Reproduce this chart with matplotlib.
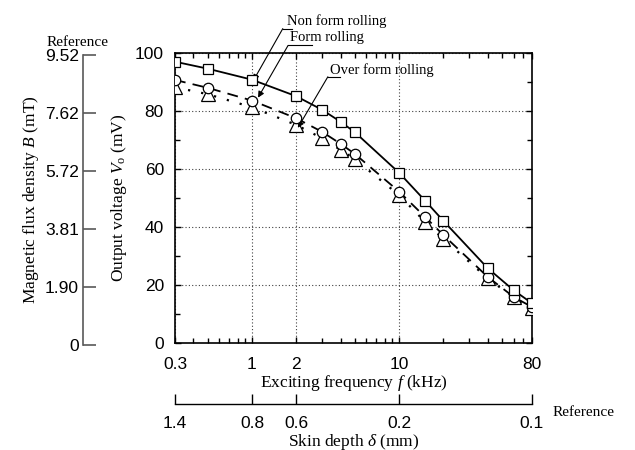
import matplotlib
matplotlib.use("Agg")
import matplotlib.pyplot as plt
from matplotlib.ticker import FixedLocator, LogLocator, MultipleLocator, NullFormatter

plt.rcParams['font.family'] = ['Liberation Sans', 'DejaVu Sans']
plt.rcParams['mathtext.fontset'] = 'custom'
plt.rcParams['mathtext.rm'] = 'Liberation Serif'
plt.rcParams['mathtext.it'] = 'Liberation Serif:italic'
SERIF = 'Liberation Serif'

# 数据
freq = [0.3, 0.5, 1, 2, 3, 4, 5, 10, 15, 20, 40, 60, 80]
v_non_form = [97, 94.6, 90.8, 85.1, 80.4, 76.3, 72.7, 58.7, 49.1, 42.1, 25.8, 18.2, 13.7]
v_form = [90.7, 88, 83.6, 77.5, 72.8, 68.7, 65.2, 52.2, 43.5, 37.2, 22.8, 15.9, 12.4]
v_over_form = [88.2, 85.8, 81.3, 75.2, 70.6, 66.6, 63.4, 51, 41.8, 35.9, 22.3, 15.7, 11.9]

freq_ticks = [0.3, 1, 2, 10, 80]
freq_labels = ['0.3', '1', '2', '10', '80']
skin_labels = ['1.4', '0.8', '0.6', '0.2', '0.1']
b_ticks = [0, 1.90, 3.81, 5.72, 7.62, 9.52]
b_labels = ['0', '1.90', '3.81', '5.72', '7.62', '9.52']

W_PX, H_PX = 635, 450
L, R, T, B = 175, 532, 53, 343  # 主图区域 (像素)

fig = plt.figure(figsize=(W_PX / 100, H_PX / 100), dpi=100)
ax = fig.add_axes([L / W_PX, 1 - B / H_PX, (R - L) / W_PX, (B - T) / H_PX])

ax.plot(freq, v_non_form, color='k', lw=1.3, ls='-', marker='s', ms=7,
        mfc='white', mec='k', mew=0.9, zorder=5)
ax.plot(freq, v_form, color='k', lw=1.3, ls=(0, (6, 4)), marker='o', ms=7.5,
        mfc='white', mec='k', mew=0.9, zorder=4)
ax.plot(freq, v_over_form, color='k', lw=1.6, ls=(0, (1, 5)), marker='^', ms=9.5,
        mfc='white', mec='k', mew=0.9, zorder=3)

ax.set_xscale('log')
ax.set_xlim(0.3, 80)
ax.set_ylim(0, 100)
ax.xaxis.set_major_locator(FixedLocator(freq_ticks))
ax.set_xticklabels(freq_labels)
ax.xaxis.set_minor_locator(LogLocator(subs=range(2, 10)))
ax.xaxis.set_minor_formatter(NullFormatter())
ax.yaxis.set_major_locator(MultipleLocator(20))
ax.yaxis.set_minor_locator(MultipleLocator(10))
ax.tick_params(which='both', direction='in', top=True, right=True, labelsize=12.5, width=1.0)
ax.tick_params(which='major', length=4)
ax.tick_params(which='minor', length=3.5)
ax.tick_params(axis='y', pad=8)
ax.tick_params(axis='x', pad=10)
for s in ax.spines.values():
    s.set_linewidth(1.2)
ax.grid(True, which='major', color='0.25', lw=0.8, ls=(0, (1, 2)))

ax.set_xlabel(r'Exciting frequency $f$ (kHz)', fontfamily=SERIF, fontsize=12.5, labelpad=1)
ax.set_ylabel(r'Output voltage $V_{\rm o}$ (mV)', fontfamily=SERIF, fontsize=12.5, labelpad=4)

# 标注
notes = [
    ('Non form rolling', (1.02, 90.4), (1.62, 108.4), 1.87, (1.73, 108.5)),
    ('Form rolling', (1.10, 84.6), (1.76, 102.6), 2.55, (1.82, 103.0)),
    ('Over form rolling', (2.05, 74.2), (3.28, 91.8), 3.96, (3.39, 91.8)),
]
for text, tip, start, ul_end, txt_pos in notes:
    ax.annotate('', xy=tip, xytext=start, annotation_clip=False,
                arrowprops=dict(arrowstyle='-|>', lw=0.8, color='k',
                                shrinkA=0, shrinkB=0, mutation_scale=9))
    ax.plot([start[0], ul_end], [start[1], start[1]], color='k', lw=0.8, clip_on=False, zorder=6)
    ax.text(txt_pos[0], txt_pos[1], text, fontfamily=SERIF, fontsize=10.5, va='bottom', ha='left',
            clip_on=False, zorder=6)

# 左侧磁通密度参考轴
axb = fig.add_axes([83 / W_PX, 1 - 345 / H_PX, 0.0001, (345 - 55) / H_PX])
axb.set_ylim(0, 9.52)
axb.set_yticks(b_ticks)
axb.set_yticklabels(b_labels)
axb.set_xticks([])
for k in ['top', 'right', 'bottom']:
    axb.spines[k].set_visible(False)
axb.spines['left'].set_color('0.35')
axb.spines['left'].set_linewidth(1.2)
axb.patch.set_visible(False)
axb.tick_params(axis='y', direction='in', length=9.5, width=1.2, color='0.35', labelsize=12.5, pad=3)
axb.set_ylabel(r'Magnetic flux density $B$ (mT)', fontfamily=SERIF, fontsize=12.5, labelpad=3)
fig.text(78 / W_PX, 1 - 46 / H_PX, 'Reference', fontfamily=SERIF, fontsize=11, ha='center', va='baseline')

# 下方趋肤深度参考轴
axs = fig.add_axes([L / W_PX, 1 - 404 / H_PX, (R - L) / W_PX, 0.0001])
axs.set_xscale('log')
axs.set_xlim(0.3, 80)
axs.xaxis.set_major_locator(FixedLocator(freq_ticks))
axs.set_xticklabels(skin_labels)
axs.xaxis.set_minor_locator(FixedLocator([]))
axs.set_yticks([])
for k in ['top', 'right', 'left']:
    axs.spines[k].set_visible(False)
axs.spines['bottom'].set_linewidth(1.0)
axs.patch.set_visible(False)
axs.tick_params(axis='x', direction='in', length=7, width=1.0, labelsize=12.5, pad=9)
axs.set_xlabel(r'Skin depth $\delta$ (mm)', fontfamily=SERIF, fontsize=12.5, labelpad=0)
fig.text(553 / W_PX, 1 - 412 / H_PX, 'Reference', fontfamily=SERIF, fontsize=11, ha='left', va='center')

fig.savefig('out.png', dpi=100)
